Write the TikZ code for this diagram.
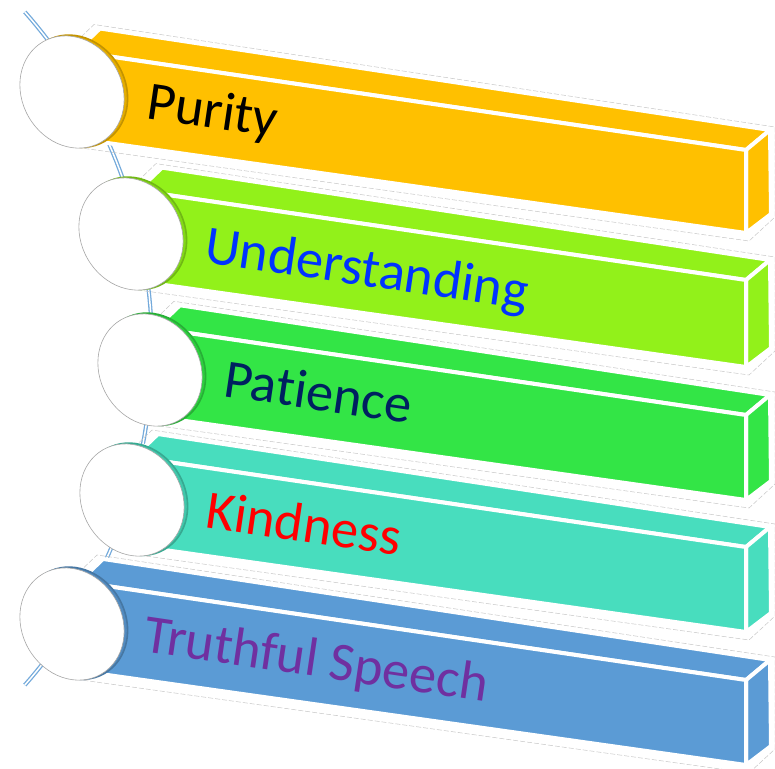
\documentclass[tikz,border=0pt]{standalone}
\usepackage{fontspec}
\setmainfont{Carlito}[Ligatures={NoCommon}]
\usetikzlibrary{calc}
\definecolor{cPur}{HTML}{FFC000}
\definecolor{cUnd}{HTML}{92F11A}
\definecolor{cPat}{HTML}{33E546}
\definecolor{cKin}{HTML}{48DDBE}
\definecolor{cTru}{HTML}{5B9BD5}
\definecolor{tUnd}{HTML}{0033FF}
\definecolor{tPat}{HTML}{002060}
\definecolor{tKin}{HTML}{FF0000}
\definecolor{tTru}{HTML}{7030A0}
\tikzset{
  barface/.style={fill=#1, draw=white, line width=4pt, line join=round},
  glow/.style={draw=gray!45, line width=0.5pt, dash pattern=on 5pt off 2pt},
  curveline/.style={draw=cTru!85, double=white, double distance=1.5pt, line width=1.3pt},
  lbl/.style={inner sep=0pt, font=\fontsize{54.5}{60}\selectfont, anchor=base west, rotate=-8.4},
}
\newcommand{\drawbar}[5]{%
  \pgfmathsetmacro\tlyv{#3-0.147*(746-#2)}%
  \pgfmathsetmacro\blyv{#4-0.141*(746-#2)}%
  \coordinate (#1TL) at (#2,\tlyv);
  \coordinate (#1BL) at (#2,\blyv);
  \coordinate (#1TR) at (746,#3);
  \coordinate (#1BR) at (746,#4);
  \coordinate (#1TLb) at ($(#1TL)+(24,-23)$);
  \coordinate (#1TRb) at ($(#1TR)+(24,-20)$);
  \coordinate (#1BRb) at ($(#1BR)+(25,-19)$);
  \draw[glow] ($(#1TL)+(-10,0)$) -- ($(#1TLb)+(-6,-4)$) -- ($(#1TRb)+(5,-3)$) -- ($(#1BRb)+(4,3)$) -- ($(#1BR)+(3,8)$) -- ($(#1BL)+(-5,8)$);
  \filldraw[barface=#5] (#1TL) -- (#1TLb) -- (#1TRb) -- (#1TR) -- cycle;
  \filldraw[barface=#5] (#1TR) -- (#1TRb) -- (#1BRb) -- (#1BR) -- cycle;
  \filldraw[barface=#5] (#1TL) -- (#1TR) -- (#1BR) -- (#1BL) -- cycle;
}
\newcommand{\drawdisc}[4]{%
  \begin{scope}[shift={(#1,#2)}]
    \filldraw[fill=#3, draw=#3!85!black, line width=1.6pt, xshift=3.5pt, yshift=0.8pt, rotate=-60] (0,0) ellipse [x radius=58pt, y radius=50pt];
    \filldraw[fill=white, draw=gray!70, line width=0.6pt, rotate=-60] (0,0) ellipse [x radius=58pt, y radius=50pt];
  \end{scope}
  \coordinate (#4) at (#1,#2);
}
\begin{document}
\begin{tikzpicture}[x=1pt,y=-1pt]
\useasboundingbox (0,0) rectangle (775,768);
\draw[curveline] plot[domain=-41.4:41.4, samples=80] ({-357+509*cos(\x)}, {348.5+509*sin(\x)});
\drawbar{b1}{76}{150}{233}{cPur}
\drawbar{b2}{138}{280}{367}{cUnd}
\drawbar{b3}{156}{415}{500}{cPat}
\drawbar{b4}{134}{547}{632}{cKin}
\drawbar{b5}{79}{680}{765}{cTru}
\drawdisc{72}{92}{cPur!90!black}{d1}
\drawdisc{131}{234}{cUnd!90!black}{d2}
\drawdisc{150}{370}{cPat!90!black}{d3}
\drawdisc{132}{500}{cKin!90!black}{d4}
\drawdisc{72}{624}{cTru!90!black}{d5}
\node[lbl, text=black] (t1) at (145,118) {Purity};
\node[lbl, text=tUnd] (t2) at (203,262) {Understanding};
\node[lbl, text=tPat] (t3) at (222,396) {Patience};
\node[lbl, text=tKin] (t4) at (204,527) {Kindness};
\node[lbl, text=tTru] (t5) at (142,651) {Truthful Speech};
\end{tikzpicture}
\end{document}
